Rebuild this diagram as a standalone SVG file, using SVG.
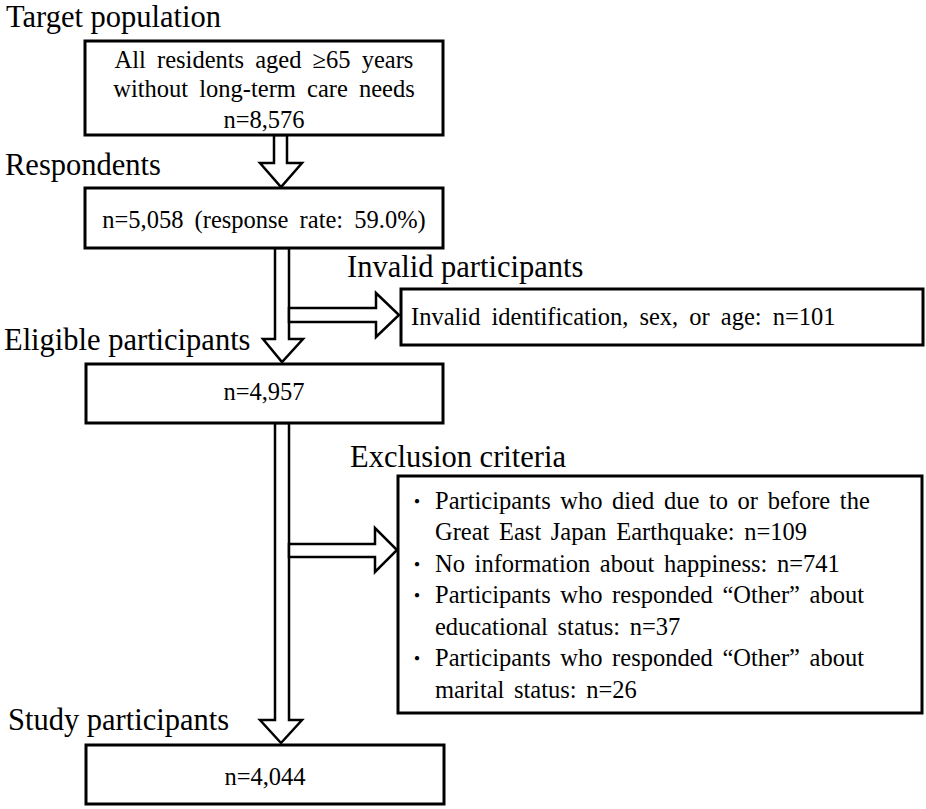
<svg xmlns="http://www.w3.org/2000/svg" width="926" height="809" viewBox="0 0 926 809">
<style>
.box{fill:#fff;stroke:#000;stroke-width:3}
.arr{fill:#fff;stroke:#000;stroke-width:2.5;stroke-linejoin:miter}
text{font-family:'Liberation Serif','Times New Roman','Noto Sans CJK JP',serif;fill:#000}
.lbl{font-size:30.5px}
.txt{font-size:24.5px;word-spacing:5px}
.ex{font-size:24.5px;word-spacing:3.5px}
.bul{font-family:'Noto Sans CJK JP',sans-serif;font-size:20px}
</style>
<rect width="926" height="809" fill="#fff"/>
<g id="connectors">
<polygon class="arr" points="274,135 274,163 260,163 281,187 302,163 287,163 287,135"/>
<polygon class="arr" points="275,248 275,339 263,339 282,362 303,339 289,339 289,248"/>
<polygon class="arr" points="289,308 376,308 376,293 399,315 376,337 376,322 289,322"/>
<polygon class="arr" points="275,423 275,720 260,720 281,743 302,720 289,720 289,423"/>
<polygon class="arr" points="289,544 375,544 375,528 397,550 375,572 375,557 289,557"/>
</g>
<g id="label-target"><text class="lbl" x="6" y="27">Target population</text></g>
<g id="node-target">
<rect class="box" x="85" y="41" width="358" height="94"/>
<text class="txt" x="264" y="68" text-anchor="middle">All residents aged ≥65 years</text>
<text class="txt" x="264" y="97" text-anchor="middle">without long-term care needs</text>
<text class="txt" x="264" y="128" text-anchor="middle">n=8,576</text>
</g>
<g id="label-respondents"><text class="lbl" x="5" y="175">Respondents</text></g>
<g id="node-respondents">
<rect class="box" x="85" y="188" width="358" height="60"/>
<text class="txt" x="264" y="228" text-anchor="middle">n=5,058 (response rate: 59.0%)</text>
</g>
<g id="label-invalid"><text class="lbl" x="347" y="277">Invalid participants</text></g>
<g id="node-invalid">
<rect class="box" x="401" y="289" width="522" height="56"/>
<text class="txt" x="411" y="325">Invalid identification, sex, or age: n=101</text>
</g>
<g id="label-eligible"><text class="lbl" x="4" y="350">Eligible participants</text></g>
<g id="node-eligible">
<rect class="box" x="86" y="364" width="357" height="59"/>
<text class="txt" x="264" y="400" text-anchor="middle">n=4,957</text>
</g>
<g id="label-exclusion"><text class="lbl" x="350" y="467">Exclusion criteria</text></g>
<g id="node-exclusion">
<rect class="box" x="398" y="476" width="524" height="237"/>
<text class="ex" x="407" y="509"><tspan class="bul">・</tspan><tspan dx="8">Participants who died due to or before the</tspan></text>
<text class="ex" x="435" y="540">Great East Japan Earthquake: n=109</text>
<text class="ex" x="407" y="572"><tspan class="bul">・</tspan><tspan dx="8">No information about happiness: n=741</tspan></text>
<text class="ex" x="407" y="603"><tspan class="bul">・</tspan><tspan dx="8">Participants who responded “Other” about</tspan></text>
<text class="ex" x="435" y="635">educational status: n=37</text>
<text class="ex" x="407" y="666"><tspan class="bul">・</tspan><tspan dx="8">Participants who responded “Other” about</tspan></text>
<text class="ex" x="435" y="698">marital status: n=26</text>
</g>
<g id="label-study"><text class="lbl" x="8" y="730">Study participants</text></g>
<g id="node-study">
<rect class="box" x="86" y="745" width="358" height="59"/>
<text class="txt" x="265" y="785" text-anchor="middle">n=4,044</text>
</g>
</svg>
